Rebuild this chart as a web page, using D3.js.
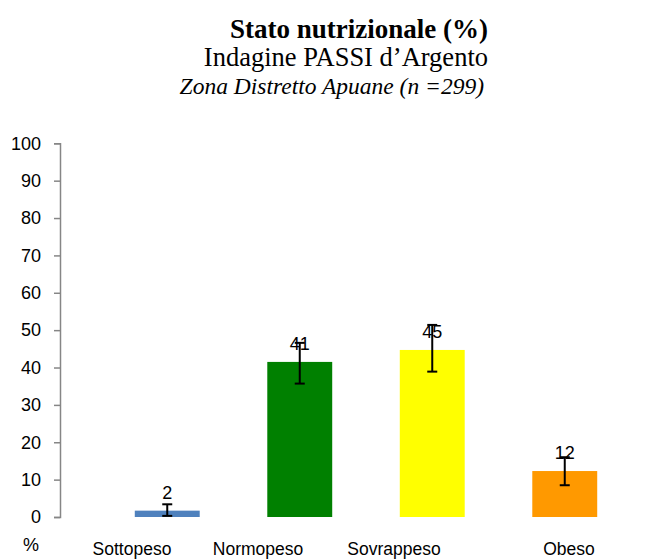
<!DOCTYPE html>
<html>
<head>
<meta charset="utf-8">
<script src="https://cdn.jsdelivr.net/npm/d3@7"></script>
<style>
  body { margin: 0; background: #fff; }
  svg { display: block; }
</style>
</head>
<body>
<svg id="chart"></svg>
<script>
  "use strict";

  // data
  var categories = ["Sottopeso", "Normopeso", "Sovrappeso", "Obeso"];
  var values = [1.7, 41.5, 44.7, 12.3];
  var valueLabels = ["2", "41", "45", "12"];
  var ciLow = [0.3, 35.7, 38.9, 8.5];
  var ciHigh = [3.4, 46.6, 51.4, 16.0];
  var colors = ["#4F81BD", "#008000", "#FFFF00", "#FF9900"];
  var yTicks = [0, 10, 20, 30, 40, 50, 60, 70, 80, 90, 100];

  var W = 655, H = 559;
  var svg = d3.select("#chart").attr("width", W).attr("height", H);

  var data = categories.map(function(c, i) {
    return {cat: c, value: values[i], label: valueLabels[i],
            lo: ciLow[i], hi: ciHigh[i], color: colors[i]};
  });

  // titles (the three lines end nearly on the same right edge)
  var titles = svg.append("g").attr("font-family", "'Liberation Serif', 'Times New Roman', serif")
    .attr("text-anchor", "end").attr("fill", "#000");
  titles.append("text").attr("x", 488).attr("y", 38)
    .style("font-size", "27px").style("font-weight", "bold")
    .text("Stato nutrizionale (%)");
  titles.append("text").attr("x", 488).attr("y", 66)
    .style("font-size", "26.5px")
    .text("Indagine PASSI d\u2019Argento");
  titles.append("text").attr("x", 484).attr("y", 94)
    .style("font-size", "23.5px").style("font-style", "italic")
    .text("Zona Distretto Apuane (n =299)");

  // scales
  var x = d3.scaleBand().domain(categories).range([101, 631]).padding(0);
  var y = d3.scaleLinear().domain([0, 100]).range([517, 143.3]);
  var barW = x.bandwidth() * 0.49;
  // category names sit in their own row, not under the bar centres
  var xLabel = d3.scaleOrdinal().domain(categories).range([132, 258, 394, 569]);

  // y axis
  var yAxis = svg.append("g")
    .attr("transform", "translate(60,0)")
    .call(d3.axisLeft(y).tickValues(yTicks).tickSize(6).tickPadding(13));
  yAxis.select(".domain").attr("stroke", "#868686").attr("stroke-width", 1.5);
  yAxis.selectAll(".tick line").attr("stroke", "#868686").attr("stroke-width", 1.5);
  yAxis.selectAll(".tick text")
    .attr("fill", "#000")
    .style("font-family", "'Liberation Sans', Arial, sans-serif")
    .style("font-size", "18px");

  // bars
  svg.append("g").selectAll("rect")
    .data(data)
    .enter().append("rect")
    .attr("x", d => x(d.cat) + (x.bandwidth() - barW) / 2)
    .attr("y", d => y(d.value))
    .attr("width", barW)
    .attr("height", d => y(0) - y(d.value))
    .attr("fill", d => d.color);

  // error bars
  var eb = svg.append("g").attr("stroke", "#000").attr("stroke-width", 2);
  data.forEach(function(d) {
    var cx = x(d.cat) + x.bandwidth() / 2;
    eb.append("line").attr("x1", cx).attr("x2", cx).attr("y1", y(d.lo)).attr("y2", y(d.hi));
    eb.append("line").attr("x1", cx - 5).attr("x2", cx + 5).attr("y1", y(d.lo)).attr("y2", y(d.lo));
    eb.append("line").attr("x1", cx - 5).attr("x2", cx + 5).attr("y1", y(d.hi)).attr("y2", y(d.hi));
  });

  // value labels
  svg.append("g").selectAll("text")
    .data(data)
    .enter().append("text")
    .attr("x", d => x(d.cat) + x.bandwidth() / 2)
    .attr("y", d => y(d.value) - 12)
    .attr("text-anchor", "middle")
    .style("font-family", "'Liberation Sans', Arial, sans-serif")
    .style("font-size", "18px")
    .text(d => d.label);

  // category labels
  svg.append("g").selectAll("text")
    .data(data)
    .enter().append("text")
    .attr("x", d => xLabel(d.cat))
    .attr("y", 555)
    .attr("text-anchor", "middle")
    .style("font-family", "'Liberation Sans', Arial, sans-serif")
    .style("font-size", "17.5px")
    .text(d => d.cat);

  // unit label
  svg.append("text")
    .attr("x", 31).attr("y", 551)
    .attr("text-anchor", "middle")
    .style("font-family", "'Liberation Sans', Arial, sans-serif")
    .style("font-size", "18px")
    .text("%");
</script>
</body>
</html>
